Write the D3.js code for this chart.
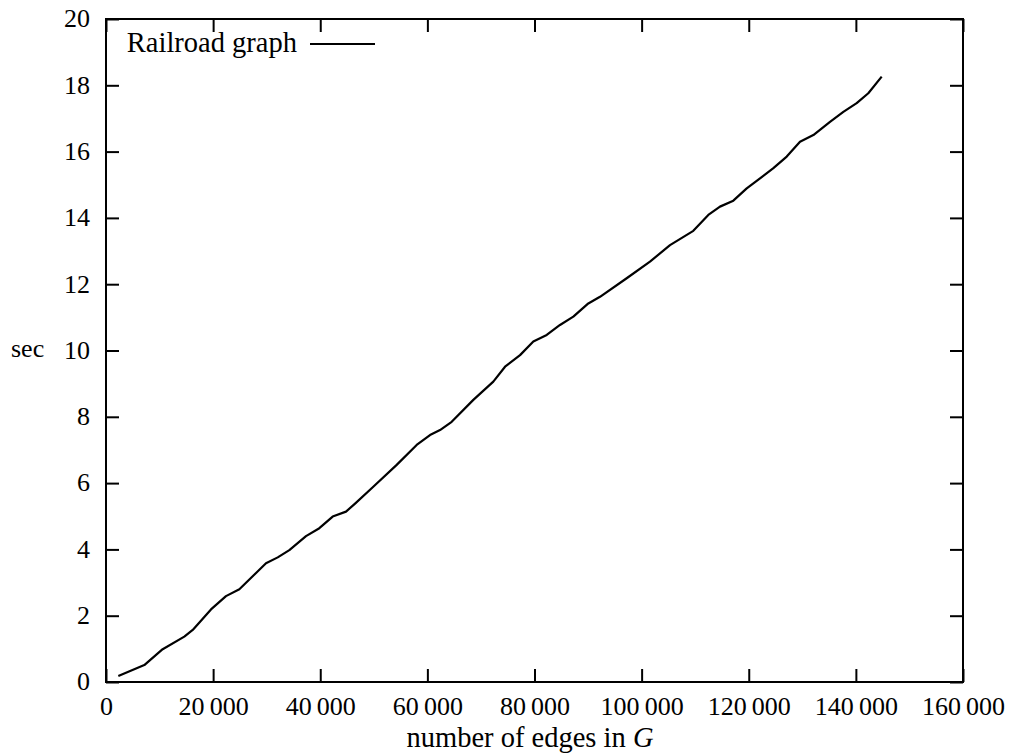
<!DOCTYPE html>
<html>
<head>
<meta charset="utf-8">
<script src="https://cdn.jsdelivr.net/npm/d3@7"></script>
<style>
  body { margin: 0; background: #fff; }
</style>
</head>
<body>
<div id="chart"></div>
<script>
// ── Data: running time vs. number of edges ──────────────────────────────────
const edges = [
  2300, 7150, 10580, 14620, 16190, 19600, 22400, 24900, 29870, 32060,
  34230, 37340, 39830, 42320, 44810, 46550, 49900, 54270, 58000, 60490,
  62360, 64540, 68580, 72310, 74500, 77300, 79780, 82280, 84760, 87250,
  90050, 92230, 97210, 101560, 105300, 109650, 112450, 114630, 117120, 119620,
  124600, 127090, 129570, 132060, 135170, 137660, 140150, 142320, 144820
];
const secs = [
  0.18, 0.51, 0.99, 1.37, 1.57, 2.19, 2.59, 2.80, 3.58, 3.76,
  3.98, 4.40, 4.64, 4.99, 5.14, 5.39, 5.89, 6.55, 7.15, 7.45,
  7.60, 7.85, 8.51, 9.06, 9.51, 9.86, 10.27, 10.47, 10.77, 11.02,
  11.42, 11.62, 12.18, 12.68, 13.18, 13.61, 14.09, 14.34, 14.52, 14.89,
  15.50, 15.85, 16.30, 16.50, 16.90, 17.20, 17.46, 17.76, 18.26
];
const xTicks = [0, 20000, 40000, 60000, 80000, 100000, 120000, 140000, 160000];
const yTicks = [0, 2, 4, 6, 8, 10, 12, 14, 16, 18, 20];
const seriesName = "Railroad graph";

// ── Layout ──────────────────────────────────────────────────────────────────
const W = 1012, H = 754;
const M = { l: 106, r: 963, t: 19, b: 682 };
const TICK = 13, FS = 26, FS_LBL = 28.5;
const FONT = '"Liberation Serif", "Times New Roman", "DejaVu Serif", serif';

const svg = d3.select('#chart').append('svg')
  .attr('width', W).attr('height', H)
  .attr('font-family', FONT);

const x = d3.scaleLinear().domain([0, 160000]).range([M.l, M.r]);
const y = d3.scaleLinear().domain([0, 20]).range([M.b, M.t]);

const fmt = v => d3.format(',')(v).replace(/,/g, '\u2009');

// Axes (ticks point inward, mirrored on top/right)
const gx = svg.append('g').attr('transform', `translate(0,${M.b})`)
  .call(d3.axisBottom(x).tickValues(xTicks).tickSize(-TICK).tickFormat(fmt));
gx.selectAll('text').attr('y', 33).attr('dy', null);

const gy = svg.append('g').attr('transform', `translate(${M.l},0)`)
  .call(d3.axisLeft(y).tickValues(yTicks).tickSize(-TICK).tickFormat(d3.format('d')));
gy.selectAll('text').attr('x', -16).attr('dy', '0.3em');

svg.append('g').attr('transform', `translate(0,${M.t})`)
  .call(d3.axisTop(x).tickValues(xTicks).tickSize(-TICK).tickFormat(''));
svg.append('g').attr('transform', `translate(${M.r},0)`)
  .call(d3.axisRight(y).tickValues(yTicks).tickSize(-TICK).tickFormat(''));

// d3 axes set their own font; put the serif back
svg.selectAll('g').attr('font-family', FONT).attr('font-size', FS);
svg.selectAll('.tick text').attr('fill', '#000');
svg.selectAll('.domain').remove();
svg.selectAll('.tick line').attr('stroke', '#000').attr('stroke-width', 2);

// Frame
svg.append('rect')
  .attr('x', M.l).attr('y', M.t)
  .attr('width', M.r - M.l).attr('height', M.b - M.t)
  .attr('fill', 'none').attr('stroke', '#000').attr('stroke-width', 2);

// Curve
const pts = edges.map((e, i) => [e, secs[i]]);
svg.append('path')
  .datum(pts)
  .attr('fill', 'none').attr('stroke', '#000').attr('stroke-width', 2.2)
  .attr('stroke-linejoin', 'round')
  .attr('d', d3.line().x(d => x(d[0])).y(d => y(d[1])));

// Legend
svg.append('text')
  .attr('x', 297).attr('y', 52).attr('text-anchor', 'end').attr('font-size', FS_LBL)
  .text(seriesName);
svg.append('line')
  .attr('x1', 310).attr('x2', 375).attr('y1', 44).attr('y2', 44)
  .attr('stroke', '#000').attr('stroke-width', 2);

// Axis titles
svg.append('text')
  .attr('x', 11).attr('y', 357).attr('font-size', FS)
  .text('sec');

const xt = svg.append('text')
  .attr('x', 530).attr('y', 747).attr('text-anchor', 'middle').attr('font-size', FS_LBL);
xt.append('tspan').text('number of edges in ');
xt.append('tspan').attr('font-style', 'italic').text('G');
</script>
</body>
</html>
